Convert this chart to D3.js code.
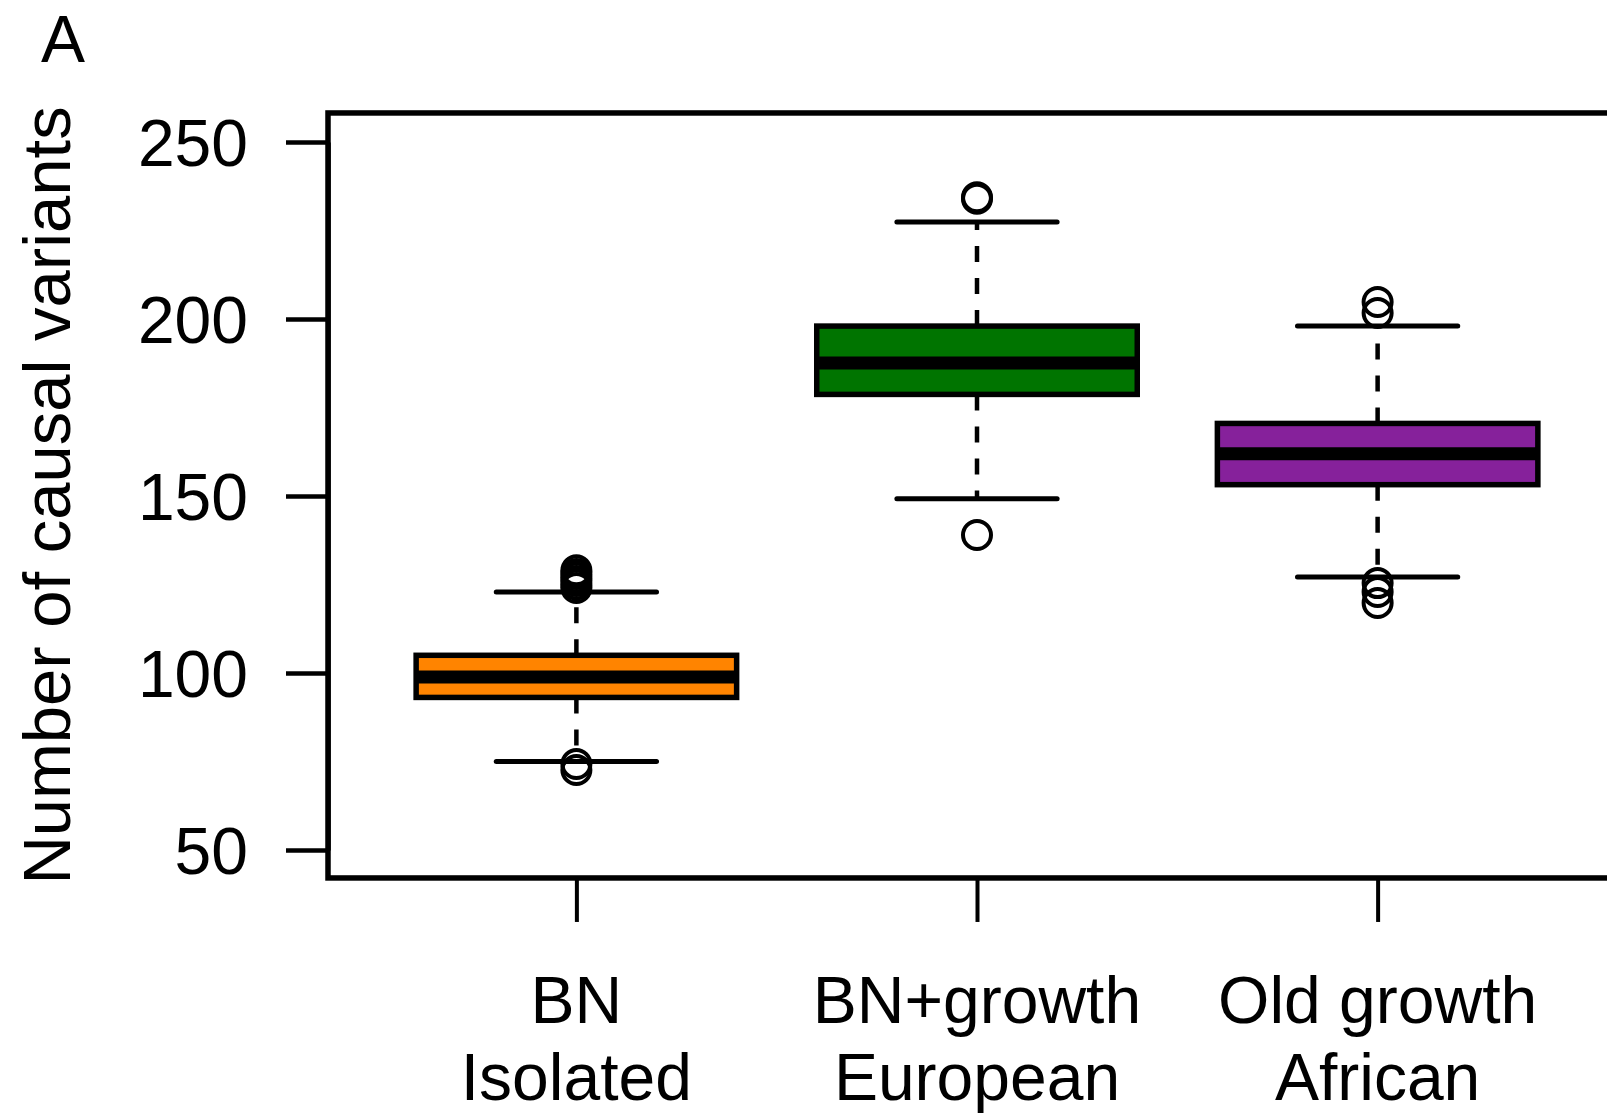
<!DOCTYPE html>
<html>
<head>
<meta charset="utf-8">
<script src="https://cdn.jsdelivr.net/npm/d3@7"></script>
<style>
  html, body { margin: 0; padding: 0; background: #fff; overflow: hidden; }
  svg { display: block; font-family: "Liberation Sans", Arial, Helvetica, sans-serif; }
</style>
</head>
<body>
<div id="chart"></div>
<script>
// boxplot summaries (number of causal variants)
const groups = ["BN", "BN+growth", "Old growth"];
const subLabels = ["Isolated", "European", "African"];
const colors = ["#ff8400", "#007400", "#86219b"];
const lowerWhisker = [75, 149.2, 127.1];
const q1 = [93.1, 178.7, 153.2];
const medians = [98.9, 187.6, 161.9];
const q3 = [105.0, 198.0, 170.5];
const upperWhisker = [122.9, 227.4, 198];
const outliers = [
  [129, 128, 127, 126, 125, 124, 74.3, 72.6],
  [234.4, 234, 139],
  [204.8, 201.7, 125.4, 122.9, 119.8]
];
const yTicks = [50, 100, 150, 200, 250];
const yLim = [42.1, 258.2];

const width = 1607, height = 1113;

const svg = d3.select("#chart").append("svg")
  .attr("width", width)
  .attr("height", height);

// R-style: boxes at 1..n, x range padded by 4%
const x = d3.scaleLinear().domain([0.38, 3.62]).range([328, 1626]);
const y = d3.scaleLinear().domain([50, 250]).range([850, 142]);
const unit = x(1) - x(0);

// plot frame
svg.append("rect")
  .attr("x", x(0.38))
  .attr("y", y(yLim[1]))
  .attr("width", x(3.62) - x(0.38))
  .attr("height", y(yLim[0]) - y(yLim[1]))
  .attr("fill", "none")
  .attr("stroke", "#000")
  .attr("stroke-width", 5.5);

// y axis
const yAxis = svg.append("g")
  .attr("transform", `translate(${x(0.38)},0)`)
  .call(d3.axisLeft(y).tickValues(yTicks).tickSize(42).tickSizeOuter(0).tickPadding(38));
yAxis.select(".domain").attr("stroke-width", 4.5);
yAxis.selectAll(".tick line").attr("stroke-width", 4.5);
yAxis.selectAll(".tick text")
  .attr("font-size", 66)
  .attr("font-family", "Liberation Sans, Arial, sans-serif")
  .attr("fill", "#000")
  .attr("dy", "0.36em");

// x axis ticks
const xAxis = svg.append("g")
  .attr("transform", `translate(0,${y(yLim[0])})`)
  .call(d3.axisBottom(x).tickValues([1, 2, 3]).tickSize(44).tickFormat(""));
xAxis.select(".domain").remove();
xAxis.selectAll(".tick line").attr("stroke-width", 4);

// x labels, two lines each
const labels = svg.append("g")
  .attr("font-size", 66)
  .attr("text-anchor", "middle")
  .attr("fill", "#000");
groups.forEach((g, i) => {
  labels.append("text").attr("x", x(i + 1)).attr("y", 1023).text(g);
  labels.append("text").attr("x", x(i + 1)).attr("y", 1100).text(subLabels[i]);
});

// y axis title
svg.append("text")
  .attr("transform", `translate(70,${(y(yLim[0]) + y(yLim[1])) / 2}) rotate(-90)`)
  .attr("text-anchor", "middle")
  .attr("font-size", 67)
  .attr("fill", "#000")
  .text("Number of causal variants");

// panel letter
svg.append("text")
  .attr("x", 41)
  .attr("y", 62)
  .attr("font-size", 66)
  .attr("fill", "#000")
  .text("A");

// boxes
const boxHalf = 0.4 * unit;
const stapleHalf = 0.2 * unit;
const plot = svg.append("g");

groups.forEach((g, i) => {
  const cx = x(i + 1);
  const grp = plot.append("g");

  // dashed whiskers
  [[q1[i], lowerWhisker[i]], [q3[i], upperWhisker[i]]].forEach(([a, b]) => {
    grp.append("line")
      .attr("x1", cx).attr("x2", cx)
      .attr("y1", y(a)).attr("y2", y(b))
      .attr("stroke", "#000")
      .attr("stroke-width", 4.5)
      .attr("stroke-dasharray", "16,16");
  });

  // staples
  [lowerWhisker[i], upperWhisker[i]].forEach(v => {
    grp.append("line")
      .attr("x1", cx - stapleHalf).attr("x2", cx + stapleHalf)
      .attr("y1", y(v)).attr("y2", y(v))
      .attr("stroke", "#000")
      .attr("stroke-width", 5)
      .attr("stroke-linecap", "round");
  });

  // box
  grp.append("rect")
    .attr("x", cx - boxHalf)
    .attr("y", y(q3[i]))
    .attr("width", 2 * boxHalf)
    .attr("height", y(q1[i]) - y(q3[i]))
    .attr("fill", colors[i])
    .attr("stroke", "#000")
    .attr("stroke-width", 5.5);

  // median
  grp.append("line")
    .attr("x1", cx - boxHalf).attr("x2", cx + boxHalf)
    .attr("y1", y(medians[i])).attr("y2", y(medians[i]))
    .attr("stroke", "#000")
    .attr("stroke-width", 13);

  // outliers
  grp.selectAll("circle")
    .data(outliers[i])
    .join("circle")
    .attr("cx", cx)
    .attr("cy", d => y(d))
    .attr("r", 14)
    .attr("fill", "none")
    .attr("stroke", "#000")
    .attr("stroke-width", 4);
});
</script>
</body>
</html>
